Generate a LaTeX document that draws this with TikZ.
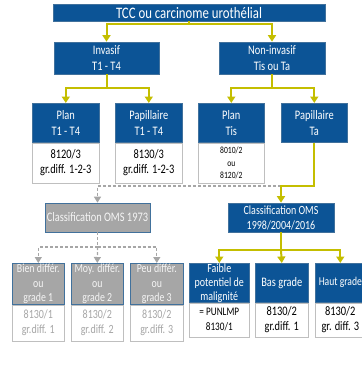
\documentclass[tikz,border=0pt]{standalone}
\usepackage{fontspec}
\setmainfont[FakeStretch=0.8]{Carlito}
\usetikzlibrary{arrows.meta}
\definecolor{oblue}{RGB}{12,84,150}
\definecolor{oborder}{RGB}{65,113,156}
\definecolor{oyellow}{RGB}{196,190,0}
\definecolor{ogray}{RGB}{166,166,166}
\definecolor{olgray}{RGB}{191,191,191}
\tikzset{
  base/.style={inner sep=0pt, align=center, line width=0.6pt},
  bluebox/.style={base, fill=oblue, draw=oborder, text=white, font=\fontsize{13}{16}\selectfont},
  graybox/.style={base, fill=ogray, draw=oborder, text=white!92!gray, font=\fontsize{13}{15}\selectfont},
  whitebox/.style={base, fill=white, draw=olgray, text=black, font=\fontsize{13}{15}\selectfont},
  whitegray/.style={base, fill=white, draw=olgray, text=ogray, font=\fontsize{12.5}{15}\selectfont},
  yl/.style={draw=oyellow, line width=2pt},
  yla/.style={yl, -{Triangle[width=8pt,length=6.5pt]}},
  gd/.style={draw=ogray, line width=1.3pt, dash pattern=on 3pt off 2pt},
  gda/.style={gd, -{Triangle[width=7pt,length=6pt]}},
}
\begin{document}
\begin{tikzpicture}[x=1pt,y=-1pt]
\useasboundingbox (0,0) rectangle (362,365);
\clip (0,0) rectangle (362,365);
% level 1
\node[bluebox, minimum width=272pt, minimum height=17pt, font=\fontsize{16}{18}\selectfont] (top) at (189,12.5) {TCC ou carcinome urothélial};
% level 2
\node[bluebox, minimum width=105pt, minimum height=32pt] (inv) at (106.5,58) {Invasif\\T1 - T4};
\node[bluebox, minimum width=106pt, minimum height=32pt] (ninv) at (272,58) {Non-invasif\\Tis ou Ta};
% level 3
\node[bluebox, anchor=north west, minimum width=67pt, minimum height=39pt] (planA) at (32,103) {Plan\\T1 - T4};
\node[whitebox, anchor=north, minimum width=67pt, minimum height=40pt] (planAw) at (planA.south) {8120/3\\gr.diff. 1-2-3};
\node[bluebox, anchor=north west, minimum width=67pt, minimum height=39pt] (papA) at (115,103) {Papillaire\\T1 - T4};
\node[whitebox, anchor=north, minimum width=67pt, minimum height=40pt] (papAw) at (papA.south) {8130/3\\gr.diff. 1-2-3};
\node[bluebox, anchor=north west, minimum width=66pt, minimum height=39pt] (planB) at (198,103) {Plan\\Tis};
\node[whitebox, anchor=north, minimum width=66pt, minimum height=40pt, font=\fontsize{9.5}{12.5}\selectfont] (planBw) at (planB.south) {8010/2\\ou\\8120/2};
\node[bluebox, anchor=north west, minimum width=66pt, minimum height=39pt] (papB) at (281,103) {Papillaire\\Ta};
% classification
\node[graybox, minimum width=105pt, minimum height=29pt] (oms73) at (97.5,217.5) {Classification OMS 1973};
\node[bluebox, minimum width=106pt, minimum height=29pt, font=\fontsize{12.5}{15}\selectfont] (oms98) at (281,217.5) {Classification OMS\\1998/2004/2016};
% bottom gray
\node[graybox, anchor=north west, minimum width=52pt, minimum height=41pt, font=\fontsize{12.3}{14.5}\selectfont] (bien) at (12,263) {Bien différ.\\ou\\grade 1};
\node[whitegray, anchor=north, minimum width=52pt, minimum height=36pt] (bienw) at (bien.south) {8130/1\\gr.diff. 1};
\node[graybox, anchor=north west, minimum width=52pt, minimum height=41pt, font=\fontsize{12.3}{14.5}\selectfont] (moy) at (71,263) {Moy. différ.\\ou\\grade 2};
\node[whitegray, anchor=north, minimum width=52pt, minimum height=36pt] (moyw) at (moy.south) {8130/2\\gr.diff. 2};
\node[graybox, anchor=north west, minimum width=53pt, minimum height=41pt, font=\fontsize{12.3}{14.5}\selectfont] (peu) at (130,263) {Peu différ.\\ou\\grade 3};
\node[whitegray, anchor=north, minimum width=53pt, minimum height=36pt] (peuw) at (peu.south) {8130/2\\gr.diff. 3};
% bottom blue
\node[bluebox, anchor=north west, minimum width=60pt, minimum height=39pt, font=\fontsize{12.5}{14}\selectfont] (faible) at (189,263) {Faible\\potentiel de\\malignité};
\node[whitebox, anchor=north, minimum width=60pt, minimum height=34pt, font=\fontsize{11.5}{15}\selectfont] (faiblew) at (faible.south) {= PUNLMP\\8130/1};
\node[bluebox, anchor=north west, minimum width=53pt, minimum height=39pt] (bas) at (255,263) {Bas grade};
\node[whitebox, anchor=north, minimum width=53pt, minimum height=34pt] (basw) at (bas.south) {8130/2\\gr.diff. 1};
\node[bluebox, anchor=north west, minimum width=50pt, minimum height=39pt, font=\fontsize{12}{15}\selectfont] (haut) at (315,263) {Haut grade};
\node[whitebox, anchor=north, minimum width=50pt, minimum height=34pt] (hautw) at (haut.south) {8130/2\\gr. diff. 3};
% junctions
\coordinate (j1) at (189,24);
\coordinate (j2) at (106.5,88);
\coordinate (j3) at (272,88);
\coordinate (j5) at (281,186);
\coordinate (j6) at (97.5,247);
\coordinate (j7) at (281,250);
% connectors
\draw[yl] (top.south) -- (j1);
\draw[yla] (j1) -| (inv.north);
\draw[yla] (j1) -| (ninv.north);
\draw[yl] (inv.south) -- (j2);
\draw[yla] (j2) -| (planA.north);
\draw[yla] (j2) -| (papA.north);
\draw[yl] (ninv.south) -- (j3);
\draw[yla] (j3) -| (planB.north);
\draw[yla] (j3) -| (papB.north);
\draw[gda] (j5) -| (oms73.north);
\draw[yla] (papB.south) |- (j5) -- (oms98.north);
\draw[gd] (oms73.south) -- (j6);
\draw[gda] (j6) -| (bien.north);
\draw[gda] (j6) -- (moy.north);
\draw[gda] (j6) -| (peu.north);
\draw[yl] (oms98.south) -- (j7);
\draw[yla] (j7) -| (faible.north);
\draw[yla] (j7) -- (bas.north);
\draw[yla] (j7) -| (haut.north);
\end{tikzpicture}
\end{document}
